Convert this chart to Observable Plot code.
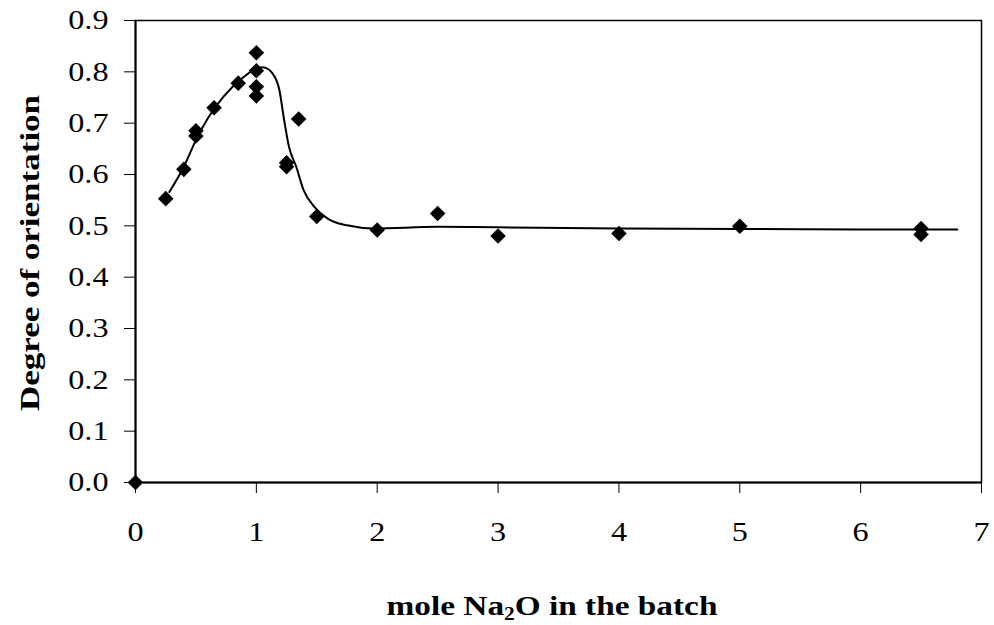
<!DOCTYPE html>
<html><head><meta charset="utf-8">
<script src="https://cdn.jsdelivr.net/npm/d3@7"></script>
<script src="https://cdn.jsdelivr.net/npm/@observablehq/plot@0.6"></script>
<style>body{margin:0;background:#fff} svg{display:block}</style>
</head><body><div id="chart"></div>
<script>
// measured points
const moleNa2O = [0, 0.25, 0.40, 0.50, 0.50, 0.65, 0.85, 1.0, 1.0, 1.0, 1.0, 1.25, 1.25, 1.35, 1.5, 2.0, 2.5, 3.0, 4.0, 5.0, 6.5, 6.5];
const orientation = [0.0, 0.553, 0.610, 0.685, 0.675, 0.730, 0.778, 0.837, 0.802, 0.771, 0.753, 0.623, 0.615, 0.708, 0.518, 0.492, 0.524, 0.480, 0.485, 0.499, 0.495, 0.483];
// fitted trend line
const fitX = [0.28, 0.40, 0.50, 0.60, 0.73, 0.87, 0.98, 1.05, 1.10, 1.13, 1.19, 1.23, 1.27, 1.33, 1.39, 1.48, 1.59, 1.75, 1.97, 2.5, 3.0, 4.0, 5.0, 6.0, 6.8];
const fitY = [0.566, 0.615, 0.667, 0.710, 0.752, 0.785, 0.804, 0.809, 0.805, 0.798, 0.765, 0.706, 0.654, 0.615, 0.570, 0.537, 0.514, 0.501, 0.495, 0.498, 0.497, 0.495, 0.494, 0.493, 0.493];
const xTicks = [0, 1, 2, 3, 4, 5, 6, 7];
const yTicks = [0, 0.1, 0.2, 0.3, 0.4, 0.5, 0.6, 0.7, 0.8, 0.9];
const xLabelParts = ["mole Na", "2", "O in the batch"];
const yLabel = "Degree of orientation";

const points = moleNa2O.map((x, i) => ({x, y: orientation[i]}));
const fit = fitX.map((x, i) => ({x, y: fitY[i]}));

const chart = Plot.plot({
  width: 994, height: 625,
  marginLeft: 135, marginRight: 13, marginTop: 20, marginBottom: 143,
  style: {fontFamily: '"Liberation Serif","Times New Roman",serif', fontSize: "28px", color: "#000", background: "#fff"},
  x: {domain: [0, 7], label: null},
  y: {domain: [0, 0.9], label: null},
  marks: [
    Plot.frame({stroke: "#000", strokeWidth: 1.5}),
    Plot.axisX({ticks: xTicks, tickSize: 11, tickPadding: 28, tickFormat: d3.format("d"), label: null, fontSize: 28}),
    Plot.axisY({ticks: yTicks, tickSize: 11, tickPadding: 16, tickFormat: d3.format(".1f"), label: null, fontSize: 28}),
    Plot.ruleY([0], {stroke: "#000", strokeWidth: 2}),
    Plot.ruleX([0], {stroke: "#000", strokeWidth: 2}),
    Plot.line(fit, {x: "x", y: "y", curve: "monotone-x", stroke: "#000", strokeWidth: 2}),
    Plot.dot(points, {x: "x", y: "y", symbol: "diamond2", r: 7, fill: "#000", stroke: "none"})
  ]
});
document.getElementById("chart").appendChild(chart);

const S = 1.15;
chart.querySelectorAll('g[aria-label="x-axis tick label"] text, g[aria-label="y-axis tick label"] text').forEach(t => {
  const tr = t.getAttribute("transform") || "";
  t.setAttribute("transform", `${tr} scale(${S},1)`);
});

const svg = d3.select(chart);
const xl = svg.append("text")
  .attr("transform", `translate(552,615) scale(1.19,1)`)
  .attr("text-anchor", "middle").attr("font-weight", "bold").attr("font-size", 28).attr("fill", "#000");
xl.append("tspan").text(xLabelParts[0]);
xl.append("tspan").attr("font-size", 18).attr("dy", 5).text(xLabelParts[1]);
xl.append("tspan").attr("dy", -5).text(xLabelParts[2]);

svg.append("text")
  .attr("transform", `translate(39,253) rotate(-90) scale(1.25,1)`)
  .attr("text-anchor", "middle").attr("font-weight", "bold").attr("font-size", 28).attr("fill", "#000")
  .text(yLabel);
</script>
</body></html>
